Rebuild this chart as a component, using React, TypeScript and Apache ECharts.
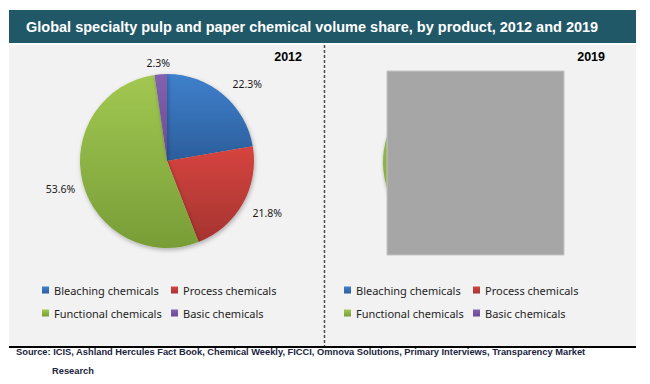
import React, { useEffect, useRef } from "react";
import * as echarts from "echarts";

const categories = ["Bleaching chemicals", "Process chemicals", "Functional chemicals", "Basic chemicals"];
const share2012 = [22.3, 21.8, 53.6, 2.3];
// 2019 pie is covered by a grey box in the source; only the Functional slice edge shows (estimated)
const share2019 = [21.5, 21.2, 55.0, 2.3];
const yearLabels = ["2012", "2019"];
const titleText = "Global specialty pulp and paper chemical volume share, by product, 2012 and 2019";
const sourceLine1 =
  "Source: ICIS, Ashland Hercules Fact Book, Chemical Weekly, FICCI, Omnova Solutions, Primary Interviews, Transparency Market";
const sourceLine2 = "Research";

// styling
const gradStops: [string, string][] = [
  ["#3f80cc", "#2c5e9c"],
  ["#d6443f", "#a53431"],
  ["#a2c852", "#789d37"],
  ["#8262ae", "#694a93"],
];
const labelOffsets2012: [number, number][] = [
  [-2, -3],
  [-4, 4],
  [7, 3],
  [15, -1],
];

const grad = (i: number) =>
  new echarts.graphic.LinearGradient(0, 0, 0, 1, [
    { offset: 0, color: gradStops[i][0] },
    { offset: 1, color: gradStops[i][1] },
  ]);

export default function App() {
  const ref = useRef<HTMLDivElement>(null);
  useEffect(() => {
    if (!ref.current) return;
    const chart = echarts.init(ref.current, undefined, { renderer: "svg" });
    const pieBase = {
      type: "pie",
      startAngle: 90,
      clockwise: true,
      silent: true,
      avoidLabelOverlap: false,
      itemStyle: {
        shadowBlur: 4,
        shadowColor: "rgba(0,0,0,0.28)",
        shadowOffsetX: 1,
        shadowOffsetY: 2,
      },
      emphasis: { disabled: true },
    };
    const legendText = { fontFamily: "Noto Sans", fontSize: 11, color: "#1e1e1e", lineHeight: 14 };
    const mkLegend = (names: string[], left: number) => ({
      orient: "vertical",
      left,
      top: 283,
      data: names,
      icon: "rect",
      itemWidth: 7,
      itemHeight: 7,
      itemGap: 9,
      selectedMode: false,
      padding: 0,
      textStyle: legendText,
    });
    chart.setOption({
      animation: false,
      color: gradStops.map((g) => g[0]),
      legend: [
        mkLegend([categories[0], categories[2]], 42),
        mkLegend([categories[1], categories[3]], 171),
        mkLegend([categories[0], categories[2]], 344),
        mkLegend([categories[1], categories[3]], 473),
      ],
      series: [
        {
          ...pieBase,
          name: yearLabels[0],
          center: [167, 161],
          radius: 87,
          label: {
            show: true,
            position: "outside",
            formatter: "{c}%",
            fontFamily: "Noto Sans",
            fontSize: 10.5,
            color: "#1a1a1a",
          },
          labelLine: { show: false, length: 10, length2: 0 },
          data: categories.map((name, i) => ({
            name,
            value: share2012[i],
            itemStyle: { color: grad(i) },
            label: { offset: labelOffsets2012[i] },
          })),
        },
        {
          ...pieBase,
          name: yearLabels[1],
          center: [471, 162],
          radius: 88,
          itemStyle: {
            shadowBlur: 3,
            shadowColor: "rgba(0,0,0,0.25)",
            shadowOffsetX: 0,
            shadowOffsetY: 2,
          },
          label: { show: false },
          labelLine: { show: false },
          data: categories.map((name, i) => ({
            name,
            value: share2019[i],
            itemStyle: { color: grad(i) },
          })),
        },
      ],
      graphic: [
        { type: "rect", z: 0, shape: { x: 9, y: 45, width: 627, height: 301 }, style: { fill: "#f2f2f2" } },
        { type: "rect", z: 0, shape: { x: 9, y: 10, width: 627, height: 33 }, style: { fill: "#215868" } },
        {
          type: "text",
          z: 1,
          x: 26,
          y: 27,
          style: {
            text: titleText,
            fill: "#ffffff",
            font: 'bold 14.5px "Liberation Sans", Arial, sans-serif',
            align: "left",
            verticalAlign: "middle",
            textAlign: "left",
            textVerticalAlign: "middle",
          },
        },
        {
          type: "line",
          z: 1,
          shape: { x1: 324.5, y1: 45, x2: 324.5, y2: 346 },
          style: { stroke: "#4d4d4d", lineWidth: 1.5, lineDash: [3, 2] },
        },
        {
          type: "line",
          z: 1,
          shape: { x1: 9, y1: 347, x2: 636, y2: 347 },
          style: { stroke: "#000000", lineWidth: 2 },
        },
        ...yearLabels.map((t, i) => ({
          type: "text",
          z: 1,
          x: i === 0 ? 302 : 605,
          y: 57,
          style: {
            text: t,
            fill: "#000000",
            font: 'bold 12.5px "Liberation Sans", Arial, sans-serif',
            align: "right",
            verticalAlign: "middle",
            textAlign: "right",
            textVerticalAlign: "middle",
          },
        })),
        {
          type: "text",
          z: 1,
          x: 16,
          y: 352,
          style: {
            text: sourceLine1,
            fill: "#1b2540",
            font: 'bold 9.3px "Liberation Sans", Arial, sans-serif',
            align: "left",
            verticalAlign: "middle",
            textAlign: "left",
            textVerticalAlign: "middle",
          },
        },
        {
          type: "text",
          z: 1,
          x: 52,
          y: 371,
          style: {
            text: sourceLine2,
            fill: "#1b2540",
            font: 'bold 9.3px "Liberation Sans", Arial, sans-serif',
            align: "left",
            verticalAlign: "middle",
            textAlign: "left",
            textVerticalAlign: "middle",
          },
        },
        {
          type: "rect",
          z: 100,
          shape: { x: 387, y: 71, width: 177, height: 184 },
          style: { fill: "#a6a6a6", stroke: "#c4c4c4", lineWidth: 1 },
        },
      ],
    });
    return () => chart.dispose();
  }, []);
  return (
    <div
      ref={ref}
      style={{ position: "fixed", left: 0, top: 0, width: 650, height: 384, background: "#ffffff" }}
    />
  );
}
